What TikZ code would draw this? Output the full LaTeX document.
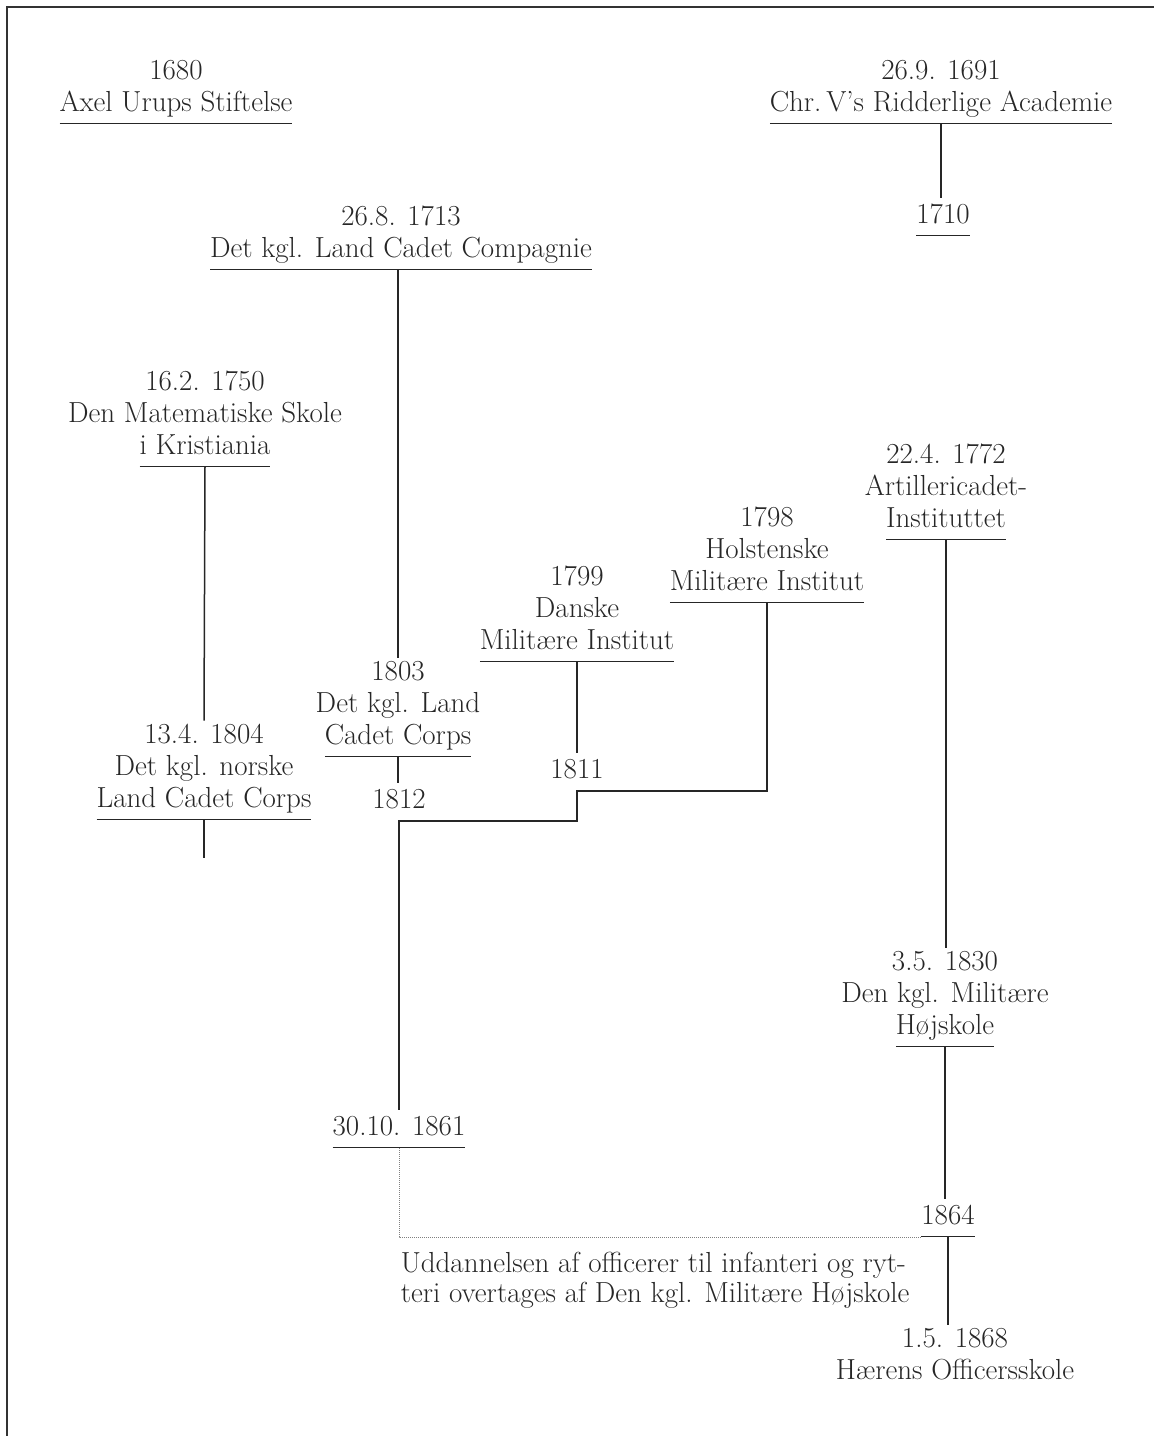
\documentclass[tikz,border=0pt]{standalone}
% underline under the last line only, at the node's south side
\newcommand{\lastline}[1]{\setbox0\hbox{#1}\rlap{\smash{\rule[-12.75pt]{\wd0}{1.5pt}}}\box0}
\begin{document}
\begin{tikzpicture}[x=1pt, y=-1pt, line width=1.5pt, color=black!85,
  inst/.style={align=center, inner xsep=0pt, inner ysep=2.4pt,
    font=\fontsize{29}{32}\selectfont,
    execute at begin node=\strut, execute at end node=\strut},
  note/.style={align=left, inner sep=0pt,
    font=\fontsize{29}{30}\selectfont, execute at begin node=\strut}]
  \useasboundingbox (0,0) rectangle (1154,1436);
  % frame, cut at right and bottom
  \draw[line width=2pt, black!80] (7,1436) -- (7,7) -- (1154,7);

  % institutions
  \node[inst, anchor=south] (urup) at (176,124) {1680\\\lastline{Axel Urups Stiftelse}};
  \node[inst, anchor=south] (chr) at (941,124) {26.9. 1691\\\lastline{Chr.\,V's Ridderlige Academie}};
  \node[inst, anchor=south] (y1710) at (943,236) {\lastline{1710}};
  \node[inst, anchor=south] (comp) at (401,270) {26.8. 1713\\\lastline{Det kgl. Land Cadet Compagnie}};
  \node[inst, anchor=south] (mat) at (205,467) {16.2. 1750\\Den Matematiske Skole\\\lastline{i Kristiania}};
  \node[inst, anchor=south] (norsk) at (204,820) {13.4. 1804\\Det kgl. norske\\\lastline{Land Cadet Corps}};
  \node[inst, anchor=south] (corps) at (398,757) {1803\\Det kgl. Land\\\lastline{Cadet Corps}};
  \node[inst, anchor=south] (y1812) at (399,821) {1812};
  \node[inst, anchor=south] (danske) at (577,662) {1799\\Danske\\\lastline{Militære Institut}};
  \node[inst, anchor=south] (y1811) at (577,791) {1811};
  \node[inst, anchor=south] (hol) at (767,603) {1798\\Holstenske\\\lastline{Militære Institut}};
  \node[inst, anchor=south] (art) at (946,540) {22.4. 1772\\Artillericadet-\\\lastline{Instituttet}};
  \node[inst, anchor=south] (hoj) at (945,1047) {3.5. 1830\\Den kgl. Militære\\\lastline{Højskole}};
  \node[inst, anchor=south] (y1861) at (399,1148) {\lastline{30.10. 1861}};
  \node[inst, anchor=south] (y1864) at (948,1237) {\lastline{1864}};
  \node[inst, anchor=south] (y1868) at (955,1392) {1.5. 1868\\Hærens Officersskole};
  \node[note, anchor=north west] (overt) at (400,1251)
    {Uddannelsen af officerer til infanteri og ryt-\\teri overtages af Den kgl. Militære Højskole};
  \coordinate (norskend) at (204,858);

  % lines of descent
  \draw (chr.south) -- (chr.south |- y1710.north);
  \draw (corps.north |- comp.south) -- (corps.north);
  \draw (mat.south) -- (norsk.north);
  \draw (norsk.south) -- (norskend);
  \draw (corps.south) -- (corps.south |- y1812.north);
  \draw (danske.south) -- (y1811.north);
  \draw (hol.south) |- (y1811.south) |- (y1812.south) -- (y1861.north);
  \draw (art.south) -- (art.south |- hoj.north);
  \draw (hoj.south) -- (hoj.south |- y1864.north);
  \draw[densely dotted, line width=1pt, black!50] (y1861.south) |- (y1864.south west);
  \draw (y1864.south) -- (y1864.south |- y1868.north);
\end{tikzpicture}
\end{document}
